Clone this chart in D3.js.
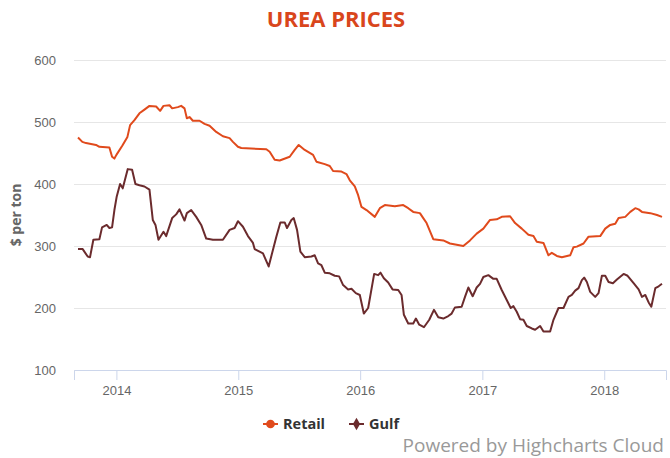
<!DOCTYPE html>
<html>
<head>
<meta charset="utf-8">
<script src="https://cdn.jsdelivr.net/npm/d3@7"></script>
<style>
  body { margin: 0; background: #fff; }
  svg { display: block; font-family: "Open Sans", "DejaVu Sans", sans-serif; }
</style>
</head>
<body>
<div id="chart"></div>
<script>
// Retail urea price, $ per ton
const retailDates = ['2013-09-08','2013-09-21','2013-10-02','2013-11-01','2013-11-11','2013-12-11','2013-12-19','2013-12-26',
    '2014-01-01','2014-01-19','2014-02-03','2014-02-11','2014-02-24','2014-03-11','2014-03-26','2014-04-10','2014-04-30','2014-05-12',
    '2014-05-22','2014-06-09','2014-06-17','2014-07-04','2014-07-14','2014-07-24','2014-07-31','2014-08-08','2014-08-18','2014-09-07',
    '2014-09-22','2014-10-07','2014-10-27','2014-11-16','2014-12-06','2014-12-16','2014-12-31','2015-01-10','2015-03-26','2015-04-05',
    '2015-04-20','2015-05-05','2015-06-04','2015-06-19','2015-07-01','2015-07-19','2015-08-13','2015-08-23','2015-09-17','2015-10-02',
    '2015-10-12','2015-11-06','2015-11-21','2015-12-01','2015-12-16','2015-12-26','2016-01-05','2016-01-20','2016-02-14','2016-02-29',
    '2016-03-15','2016-04-14','2016-05-09','2016-05-24','2016-06-08','2016-06-28','2016-07-08','2016-07-18','2016-08-07','2016-09-06',
    '2016-09-26','2016-11-05','2016-11-25','2016-12-15','2017-01-04','2017-01-24','2017-02-13','2017-02-28','2017-03-25','2017-04-09',
    '2017-04-29','2017-05-19','2017-06-03','2017-06-13','2017-07-03','2017-07-18','2017-07-28','2017-08-12','2017-08-27','2017-09-21',
    '2017-10-01','2017-10-11','2017-10-31','2017-11-15','2017-12-20','2018-01-04','2018-01-19','2018-02-03','2018-02-13','2018-03-05',
    '2018-03-20','2018-04-04','2018-04-14','2018-04-24','2018-05-19','2018-06-08','2018-06-23'];
const retailValues = [475,468,466,463,460,459,444,441,
    447,462,476,495,503,514,520,526,525,518,
    526,527,522,524,526,522,506,508,502,502,
    497,494,484,477,474,468,460,458,456,452,
    439,438,444,455,463,455,447,436,432,429,
    421,420,416,406,396,382,363,358,347,361,
    366,364,366,361,355,353,345,337,311,309,
    304,300,309,320,328,342,343,347,348,337,
    328,318,316,307,305,285,289,284,282,285,
    298,299,304,315,316,328,334,336,345,347,
    355,361,359,355,353,350,347];

// Gulf (NOLA) urea price, $ per ton
const gulfDates = ['2013-09-08','2013-09-22','2013-10-07','2013-10-14','2013-10-24','2013-11-11','2013-11-19','2013-12-03','2013-12-11',
    '2013-12-19','2013-12-26','2014-01-02','2014-01-12','2014-01-20','2014-02-04','2014-02-17','2014-02-27','2014-03-11','2014-03-26',
    '2014-04-10','2014-04-20','2014-04-28','2014-05-07','2014-05-22','2014-05-30','2014-06-17','2014-06-29','2014-07-09','2014-07-24',
    '2014-07-31','2014-08-13','2014-08-28','2014-09-12','2014-09-27','2014-10-17','2014-11-16','2014-12-06','2014-12-21','2014-12-31',
    '2015-01-15','2015-01-30','2015-02-14','2015-02-19','2015-03-16','2015-04-02','2015-04-25','2015-05-07','2015-05-20','2015-05-27',
    '2015-06-09','2015-06-16','2015-06-26','2015-07-06','2015-07-19','2015-08-08','2015-08-18','2015-08-28','2015-09-07','2015-09-17',
    '2015-10-02','2015-10-17','2015-10-30','2015-11-11','2015-11-26','2015-12-06','2015-12-19','2015-12-31','2016-01-12','2016-01-25',
    '2016-02-12','2016-02-24','2016-03-02','2016-03-12','2016-03-25','2016-04-07','2016-04-24','2016-05-04','2016-05-11','2016-05-24',
    '2016-06-08','2016-06-16','2016-06-26','2016-07-10','2016-07-26','2016-08-09','2016-08-22','2016-09-06','2016-09-21','2016-10-01',
    '2016-10-11','2016-10-31','2016-11-10','2016-11-20','2016-12-03','2016-12-15','2016-12-25','2017-01-04','2017-01-19','2017-02-03',
    '2017-02-13','2017-02-28','2017-03-15','2017-03-27','2017-04-04','2017-04-14','2017-04-24','2017-05-04','2017-05-14','2017-05-29',
    '2017-06-08','2017-06-23','2017-07-03','2017-07-23','2017-08-02','2017-08-17','2017-09-01','2017-09-16','2017-09-26','2017-10-06',
    '2017-10-16','2017-10-26','2017-11-02','2017-11-10','2017-11-20','2017-12-05','2017-12-15','2017-12-25','2018-01-04','2018-01-14',
    '2018-01-27','2018-02-08','2018-02-28','2018-03-12','2018-03-30','2018-04-14','2018-04-24','2018-05-04','2018-05-14','2018-05-22',
    '2018-06-03','2018-06-13','2018-06-23'];
const gulfValues = [295,295,283,282,310,311,330,334,329,
    330,358,380,400,393,424,423,400,398,396,
    391,342,334,310,323,316,345,351,359,341,
    353,358,347,334,312,310,310,326,329,340,
    331,316,305,295,288,267,315,338,338,329,
    342,345,326,291,282,283,285,272,269,257,
    256,252,251,237,230,231,224,221,191,200,
    255,253,257,248,241,230,229,221,189,175,
    175,183,173,169,181,197,185,183,187,191,
    201,202,218,233,219,233,239,250,253,247,
    247,229,213,200,203,194,182,181,171,167,
    165,171,162,162,181,200,200,218,221,228,
    232,245,249,242,226,218,224,252,252,242,
    240,246,255,252,240,230,218,221,209,202,
    232,235,239];

const yTicks = [100, 200, 300, 400, 500, 600];
const xTickYears = [2014, 2015, 2016, 2017, 2018];

const seriesNames = ['Retail', 'Gulf'];
const seriesColors = ['#e04a1c', '#6b2b2d'];

const width = 670,
    height = 458,
    margin = { top: 60, right: 4, bottom: 88, left: 74 };

const parse = d3.timeParse('%Y-%m-%d');
const series = [
    { name: seriesNames[0], color: seriesColors[0], symbol: d3.symbolCircle,
      data: retailDates.map((d, i) => ({ date: parse(d), value: retailValues[i] })) },
    { name: seriesNames[1], color: seriesColors[1], symbol: d3.symbolDiamond,
      data: gulfDates.map((d, i) => ({ date: parse(d), value: gulfValues[i] })) }
];

const svg = d3.select('#chart').append('svg')
    .attr('width', width)
    .attr('height', height);

const x = d3.scaleTime()
    .domain([parse('2013-08-27'), parse('2018-07-05')])
    .range([margin.left, width - margin.right]);

const y = d3.scaleLinear()
    .domain([100, 600])
    .range([height - margin.bottom, margin.top]);

// title
svg.append('text')
    .attr('x', width / 2 + 1)
    .attr('y', 27)
    .attr('text-anchor', 'middle')
    .style('font-family', '"Liberation Sans Narrow", "Open Sans", sans-serif')
    .style('font-size', '22px')
    .style('font-weight', 'bold')
    .style('fill', '#d9461c')
    .text('UREA PRICES');

// grid + y labels
const yAxis = svg.append('g')
    .attr('transform', `translate(${margin.left},0)`)
    .call(d3.axisLeft(y).tickValues(yTicks).tickSize(-(width - margin.left - margin.right)).tickPadding(18));
yAxis.select('.domain').remove();
yAxis.selectAll('.tick line').attr('stroke', '#e6e6e6');
yAxis.selectAll('.tick text')
    .style('font-size', '13px')
    .style('fill', '#666');

svg.append('text')
    .attr('transform', `translate(21,${(margin.top + height - margin.bottom) / 2}) rotate(-90)`)
    .attr('text-anchor', 'middle')
    .style('font-size', '14px')
    .style('font-weight', 'bold')
    .style('fill', '#666')
    .text('$ per ton');

// x axis
const xAxis = svg.append('g')
    .attr('transform', `translate(0,${height - margin.bottom})`)
    .call(d3.axisBottom(x)
        .tickValues(xTickYears.map(yr => new Date(yr, 0, 1)))
        .tickFormat(d3.timeFormat('%Y'))
        .tickSize(10).tickPadding(6));
xAxis.select('.domain').attr('stroke', '#ccd6eb');
xAxis.selectAll('.tick line').attr('stroke', '#ccd6eb');
xAxis.selectAll('.tick text')
    .style('font-size', '13px')
    .style('fill', '#666');

// lines
const line = d3.line()
    .x(d => x(d.date))
    .y(d => y(d.value));

series.forEach(s => {
    svg.append('path')
        .datum(s.data)
        .attr('fill', 'none')
        .attr('stroke', s.color)
        .attr('stroke-width', 2)
        .attr('stroke-linejoin', 'round')
        .attr('d', line);
});

// legend
const legendX = [263, 349];
series.forEach((s, i) => {
    const g = svg.append('g').attr('transform', `translate(${legendX[i]},424)`);
    g.append('line')
        .attr('x1', 0).attr('x2', 15)
        .attr('stroke', s.color)
        .attr('stroke-width', 2);
    g.append('path')
        .attr('transform', 'translate(7.5,0)')
        .attr('d', d3.symbol().type(s.symbol).size(i === 0 ? 60 : 45)())
        .attr('fill', s.color);
    g.append('text')
        .attr('x', 20)
        .attr('y', 5)
        .style('font-size', '14.5px')
        .style('font-weight', 'bold')
        .style('fill', '#333')
        .text(s.name);
});

// credits
svg.append('text')
    .attr('x', width - 6)
    .attr('y', 452)
    .attr('text-anchor', 'end')
    .style('font-size', '19px')
    .style('fill', '#999')
    .text('Powered by Highcharts Cloud');
</script>
</body>
</html>
